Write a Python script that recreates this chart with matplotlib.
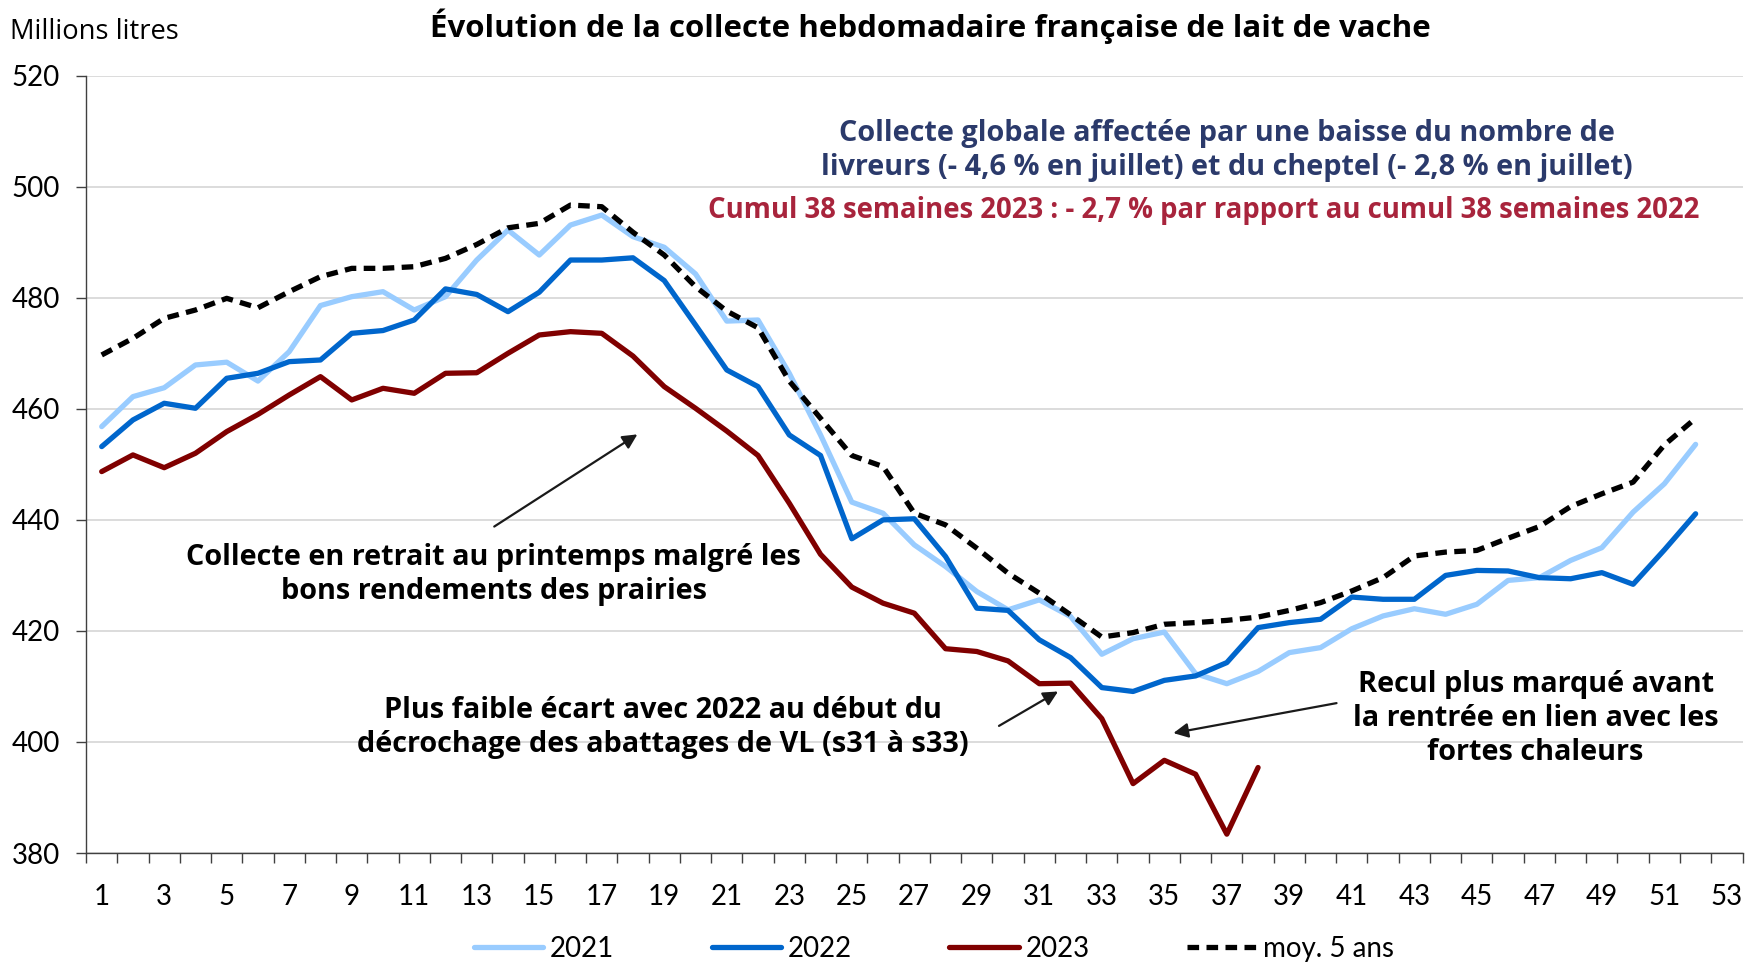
import matplotlib as mpl
mpl.use("Agg")
import matplotlib.pyplot as plt
from matplotlib.ticker import FixedLocator
import numpy as np

plt.rcParams['font.family'] = ['Lato', 'DejaVu Sans']
txt_font = ['Open Sans', 'DejaVu Sans']

# Weekly collection, millions of litres
weeks = np.arange(1, 53)
v2021 = [456.8, 462.2, 463.8, 467.9, 468.4, 465.0, 470.3, 478.6, 480.2, 481.1,
         477.8, 480.2, 486.8, 492.2, 487.7, 493.1, 494.9, 491.0, 489.1, 484.3,
         475.8, 476.0, 466.4, 455.3, 443.2, 441.2, 435.5, 431.6, 427.1, 423.8,
         425.6, 422.6, 415.8, 418.6, 419.8, 412.3, 410.5, 412.7, 416.1, 417.0,
         420.4, 422.7, 424.0, 423.0, 424.8, 429.1, 429.6, 432.7, 435.0, 441.4,
         446.5, 453.6]
v2022 = [453.2, 458.0, 461.0, 460.1, 465.5, 466.4, 468.5, 468.8, 473.6, 474.1,
         476.0, 481.6, 480.6, 477.5, 481.0, 486.8, 486.8, 487.2, 483.1, 475.1,
         467.0, 464.0, 455.3, 451.6, 436.6, 440.0, 440.2, 433.4, 424.1, 423.7,
         418.4, 415.2, 409.8, 409.1, 411.1, 411.9, 414.3, 420.6, 421.5, 422.1,
         426.1, 425.7, 425.7, 430.0, 430.9, 430.8, 429.6, 429.4, 430.5, 428.4,
         434.6, 441.1]
v2023 = [448.7, 451.7, 449.4, 452.0, 455.9, 459.0, 462.5, 465.8, 461.6, 463.7,
         462.8, 466.4, 466.5, 470.0, 473.3, 473.9, 473.6, 469.5, 464.0, 460.1,
         456.0, 451.6, 443.0, 433.8, 427.9, 425.0, 423.2, 416.8, 416.3, 414.6,
         410.5, 410.6, 404.2, 392.5, 396.7, 394.2, 383.4, 395.4]
moy5 = [469.7, 472.7, 476.3, 477.8, 479.9, 478.2, 481.1, 483.8, 485.3, 485.3,
        485.6, 487.1, 489.6, 492.6, 493.4, 496.7, 496.4, 491.8, 487.7, 482.0,
        477.6, 474.6, 465.0, 458.3, 451.6, 449.6, 441.2, 439.1, 434.9, 430.4,
        426.8, 422.9, 418.9, 419.7, 421.2, 421.5, 421.9, 422.5, 423.7, 425.1,
        427.2, 429.6, 433.5, 434.2, 434.5, 436.7, 438.8, 442.4, 444.7, 446.8,
        453.5, 458.3]
weeks_2023 = np.arange(1, len(v2023) + 1)

x_labels = list(range(1, 54, 2))
y_ticks = list(range(380, 521, 20))

fig = plt.figure(figsize=(17.46, 9.64), dpi=100)
ax = fig.add_axes([0.0493, 0.1151, 0.9487, 0.8064])

lw = 3.8
ax.plot(weeks, v2021, color='#99ccff', lw=lw, label='2021', solid_capstyle='round', zorder=3)
ax.plot(weeks, v2022, color='#0066cc', lw=lw, label='2022', solid_capstyle='round', zorder=4)
ax.plot(weeks_2023, v2023, color='#800000', lw=lw, label='2023', solid_capstyle='round', zorder=5)
ax.plot(weeks, moy5, color='black', lw=lw, ls=(0, (2.2, 1.4)), label='moy. 5 ans', zorder=6)

# axes formatting
ax.set_xlim(0.5, 53.5)
ax.set_ylim(380, 520)
ax.set_yticks(y_ticks)
ax.xaxis.set_major_locator(FixedLocator(x_labels))
ax.xaxis.set_minor_locator(FixedLocator(np.arange(0.5, 54, 1)))
ax.tick_params(axis='x', which='major', length=0, pad=22, labelsize=20)
ax.tick_params(axis='x', which='minor', length=7, width=1, color='#404040')
ax.tick_params(axis='y', length=7, width=1, color='#404040', pad=12, labelsize=20)
ax.grid(True, axis='y', color='#d9d9d9', lw=1.3)
ax.set_axisbelow(True)
for s in ['top', 'right']:
    ax.spines[s].set_visible(False)
for s in ['left', 'bottom']:
    ax.spines[s].set_color('#404040')
    ax.spines[s].set_linewidth(1)

fig.text(0.006, 0.967, 'Millions litres', fontsize=19.7, family=txt_font, ha='left', va='center')
fig.text(0.533, 0.973, 'Évolution de la collecte hebdomadaire française de lait de vache',
         fontsize=22.5, family=txt_font, fontweight='bold', ha='center', va='center')

# annotations
ann = dict(fontsize=20.8, family=txt_font, fontweight='bold', ha='center', va='center',
           linespacing=1.23)
ax.text(36.99, 506.6, 'Collecte globale affectée par une baisse du nombre de\n'
        'livreurs (- 4,6 % en juillet) et du cheptel (- 2,8 % en juillet)',
        color='#2b3a6b', **ann)
ax.text(36.25, 495.8, 'Cumul 38 semaines 2023 : - 2,7 % par rapport au cumul 38 semaines 2022',
        color='#a8243c', fontsize=19.8, family=txt_font, fontweight='bold', ha='center', va='center')

arrow = dict(arrowstyle='-|>', color='#1a1a1a', lw=1.6, mutation_scale=22, shrinkA=0, shrinkB=0)
ax.annotate('', xy=(18.14, 455.4), xytext=(13.56, 438.8), arrowprops=arrow)
ax.text(13.54, 430.2, 'Collecte en retrait au printemps malgré les\nbons rendements des prairies', **ann)

ax.annotate('', xy=(31.6, 409.1), xytext=(29.71, 402.9), arrowprops=arrow)
ax.text(18.95, 402.6, 'Plus faible écart avec 2022 au début du\ndécrochage des abattages de VL (s31 à s33)', **ann)

ax.annotate('', xy=(35.29, 401.6), xytext=(40.51, 407.0), arrowprops=arrow)
ax.text(46.88, 404.2, 'Recul plus marqué avant\nla rentrée en lien avec les\nfortes chaleurs', **ann)

fig.legend(loc='center', bbox_to_anchor=(0.535, 0.016), ncol=4, frameon=False,
           fontsize=20, handlelength=2.5, handletextpad=0.25, columnspacing=3.5)

fig.savefig('out.png', dpi=100)
